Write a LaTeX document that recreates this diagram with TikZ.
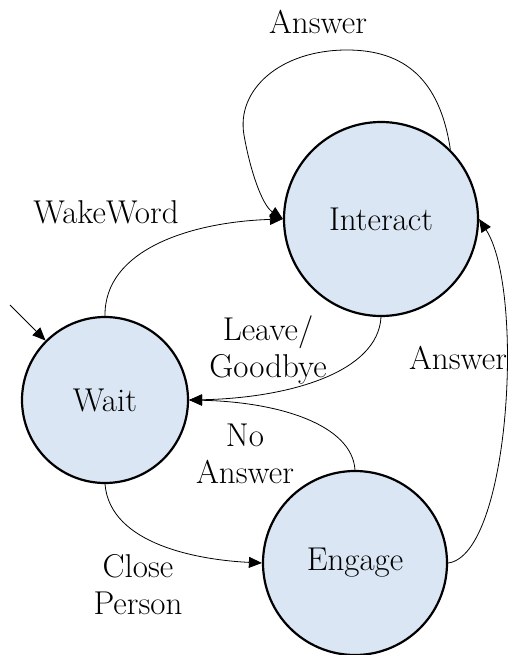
\documentclass[tikz,border=0pt]{standalone}
\usetikzlibrary{arrows.meta}
\definecolor{statefill}{HTML}{DAE6F3}
\begin{document}
\begin{tikzpicture}[x=1pt,y=-1pt,
  every node/.style={font=\fontsize{33}{37}\selectfont},
  state/.style={circle,draw=black,line width=2.2pt,fill=statefill,inner sep=0pt},
  edgelbl/.style={align=center,inner sep=0pt},
  trans/.style={line width=0.8pt,-{Triangle[length=13pt,width=11pt]}}]
\useasboundingbox (0,0) rectangle (512,655);

% states
\node[state,minimum size=194pt] (I) at (381,219) {Interact};
\node[state,minimum size=166pt] (W) at (105,400) {Wait};
\node[state,minimum size=184pt] (E) at (355,563) {Engage};

% initial marker
\coordinate (start) at (10,305);
\draw[trans] (start) -- (W.135);

% transitions
\draw[trans] (W.north) .. controls (104,250) and (190,222) .. (I.west);
\draw[trans] (I.45) .. controls (440,80) and (405,50) .. (347,50)
  .. controls (280,50) and (236,90) .. (244,135)
  .. controls (250,170) and (262,205) .. (I.west);
\draw[trans] (I.south) .. controls (378,372) and (290,398) .. (W.east);
\draw[trans] (E.north) .. controls (352,425) and (280,402) .. (W.east);
\draw[trans] (W.south) .. controls (110,545) and (200,560) .. (E.west);
\draw[trans] (E.east) .. controls (510,555) and (525,290) .. (I.east);

% transition labels
\node[edgelbl] (l1) at (318,22) {Answer};
\node[edgelbl] (l2) at (106,212) {WakeWord};
\node[edgelbl] (l3) at (268,350) {Leave/\\Goodbye};
\node[edgelbl] (l4) at (245,454) {No\\Answer};
\node[edgelbl] (l5) at (138,585) {Close\\Person};
\node[edgelbl] (l6) at (458,358) {Answer};
\end{tikzpicture}
\end{document}
